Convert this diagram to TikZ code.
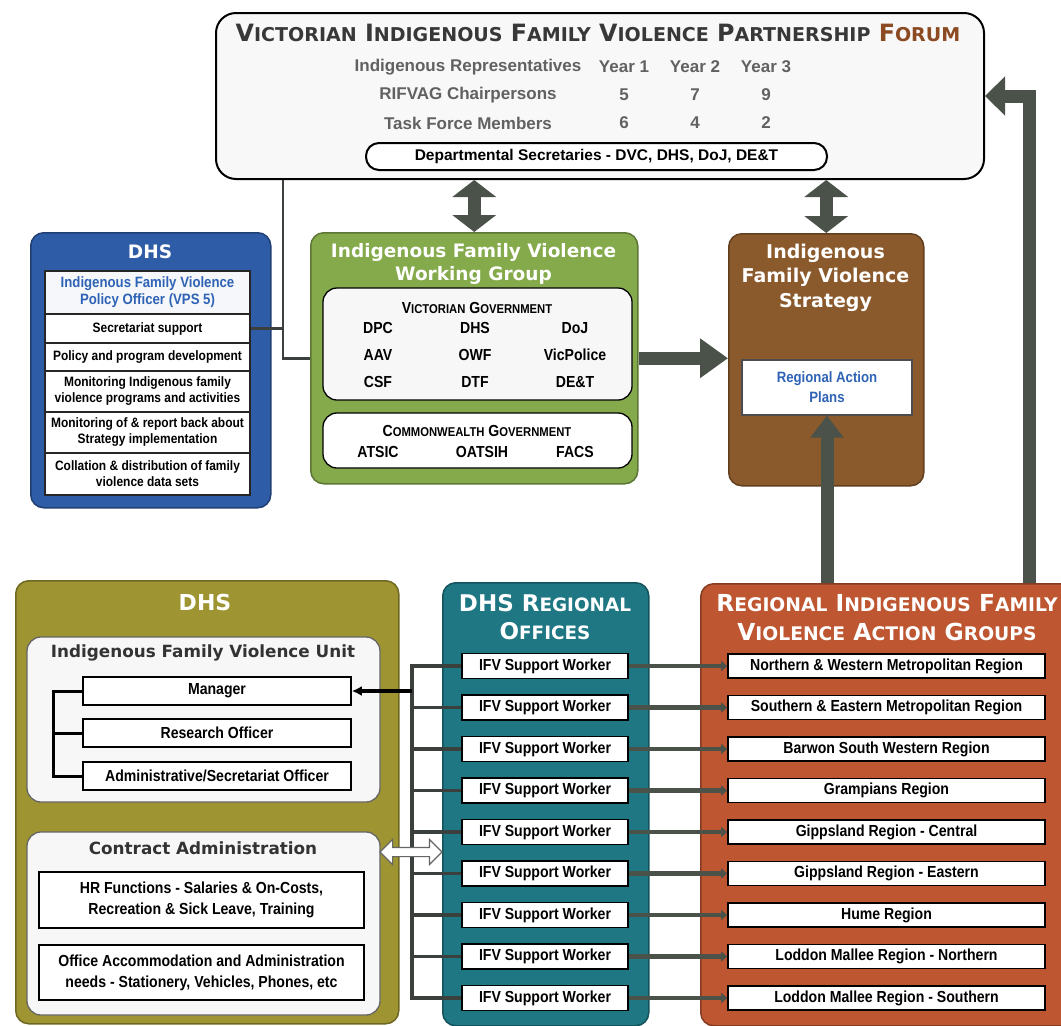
\documentclass[tikz,border=0pt]{standalone}
\usepackage{fontspec}
\setmainfont{Liberation Sans}
\newfontfamily\narrowsf[FakeStretch=0.88]{Liberation Sans}
\newfontfamily\headsf{DejaVu Sans}
\usetikzlibrary{arrows.meta,shapes.arrows}
\definecolor{forumfill}{HTML}{F8F8F8}
\definecolor{forumred}{HTML}{8B4A22}
\definecolor{blueb}{HTML}{2E5CA6}
\definecolor{bluetxt}{HTML}{2F63B5}
\definecolor{greenb}{HTML}{84AA4B}
\definecolor{brownb}{HTML}{8B5A2C}
\definecolor{oliveb}{HTML}{9E9431}
\definecolor{tealb}{HTML}{1E7783}
\definecolor{orangeb}{HTML}{BE5631}
\definecolor{arrowgrey}{HTML}{4B5249}
\definecolor{linegrey}{HTML}{3C403D}
\newcommand\smc[1]{\scalebox{0.8}{#1}}
\begin{document}
\begin{tikzpicture}[x=1pt,y=-1pt,
  panel/.style={draw=#1!70!black, fill=#1, line width=1.5pt, rounded corners=13pt, anchor=north west, inner sep=0pt},
  innerpanel/.style={draw=black!60, fill=white!97!black, line width=1.3pt, rounded corners=14pt, inner sep=0pt},
  cell/.style={draw=black, fill=white, line width=1.6pt, inner sep=0pt, align=center, font=\narrowsf\bfseries\fontsize{16}{20}\selectfont},
  dhsrow/.style={draw=black!85, fill=white, line width=1.2pt, inner sep=0pt, minimum width=205pt, align=center, font=\narrowsf\bfseries\fontsize{13.6}{16}\selectfont},
  whitehead/.style 2 args={text=white, align=center, font=\headsf\bfseries\fontsize{#1}{#2}\selectfont},
  darkhead/.style={text=black!80, align=center, font=\headsf\bfseries\fontsize{16.8}{20}\selectfont},
  member/.style={font=\narrowsf\bfseries\fontsize{16}{18}\selectfont},
  tabtxt/.style={text=black!62, font=\bfseries\fontsize{17}{20}\selectfont},
  link/.style={draw=linegrey, line width=2.5pt},
  buslink/.style={draw=linegrey, line width=3.5pt},
  fat/.style={draw=arrowgrey, line width=13pt},
  conn/.style={draw=arrowgrey, line width=4.5pt, -{Triangle[length=6pt,width=10pt]}}]
\clip (0,0) rectangle (1061,1026);
\fill[white] (0,0) rectangle (1061,1026);
\node[panel=forumfill, draw=black, line width=2pt, rounded corners=20pt, minimum width=768pt, minimum height=166pt] (forum) at (215,12) {};
\node[text=black!78, font=\headsf\bfseries\fontsize{23.8}{28}\selectfont] (forumtitle) at (598,33) {V\smc{ICTORIAN} I\smc{NDIGENOUS} F\smc{AMILY} V\smc{IOLENCE} P\smc{ARTNERSHIP} {\color{forumred}F\smc{ORUM}}};
\foreach \lab/\ya/\yb/\yc [count=\r] in {Indigenous Representatives/Year 1/Year 2/Year 3, RIFVAG Chairpersons/5/7/9, Task Force Members/6/4/2}{
  \node[tabtxt] (tl\r) at (468,39+28*\r) {\lab};
  \node[tabtxt] (ta\r) at (624,39+28*\r) {\ya};
  \node[tabtxt] (tb\r) at (695,39+28*\r) {\yb};
  \node[tabtxt] (tc\r) at (766,39+28*\r) {\yc};
}
\node[draw=black, fill=white, line width=2pt, rounded corners=13pt, minimum width=461pt, minimum height=27pt, inner sep=0pt, font=\bfseries\fontsize{15.5}{18}\selectfont] (secs) at (596.5,156.5) {Departmental Secretaries - DVC, DHS, DoJ, DE\&T};

\node[panel=blueb, minimum width=240pt, minimum height=275pt] (dhs) at (30,232) {};
\node[whitehead={18.5}{22}] (dhstitle) at (150,252) {DHS};
\node[dhsrow, fill=white!95!blueb, minimum height=43pt, text=bluetxt, font=\narrowsf\bfseries\fontsize{15}{17}\selectfont] (ifvpo) at (147.5,292.5) {Indigenous Family Violence\\Policy Officer (VPS 5)};
\node[dhsrow, minimum height=29pt] (secsup) at (147.5,328.5) {Secretariat support};
\node[dhsrow, minimum height=28pt] (polprog) at (147.5,357) {Policy and program development};
\node[dhsrow, minimum height=41pt] (monprog) at (147.5,391.5) {Monitoring Indigenous family\\violence programs and activities};
\node[dhsrow, minimum height=41pt] (monstrat) at (147.5,432.5) {Monitoring of \& report back about\\Strategy implementation};
\node[dhsrow, minimum height=42pt] (datasets) at (147.5,474) {Collation \& distribution of family\\violence data sets};

\node[panel=greenb, minimum width=327pt, minimum height=251pt] (wg) at (310,232) {};
\node[whitehead={18.5}{23}] (wgtitle) at (473.5,263.5) {Indigenous Family Violence\\Working Group};
\node[innerpanel, draw=black, minimum width=309pt, minimum height=112pt] (vicgov) at (477.5,344) {};
\node[member] (vicgovtitle) at (477,308) {V\smc{ICTORIAN} G\smc{OVERNMENT}};
\foreach \a/\b/\c [count=\r] in {DPC/DHS/DoJ, AAV/OWF/VicPolice, CSF/DTF/DE\&T}{
  \node[member] (va\r) at (378,301+27*\r) {\a};
  \node[member] (vb\r) at (475,301+27*\r) {\b};
  \node[member] (vc\r) at (575,301+27*\r) {\c};
}
\node[innerpanel, draw=black, fill=white, minimum width=309pt, minimum height=55pt] (cwgov) at (477.5,440.5) {};
\node[member] (cwgovtitle) at (477,431) {C\smc{OMMONWEALTH} G\smc{OVERNMENT}};
\node[member] (atsic) at (378,452) {ATSIC};
\node[member] (oatsih) at (482,452) {OATSIH};
\node[member] (facs) at (575,452) {FACS};

\node[panel=brownb, minimum width=195pt, minimum height=252pt] (strat) at (728,233) {};
\node[whitehead={19}{24.5}] (strattitle) at (825.5,277.5) {Indigenous\\Family Violence\\Strategy};
\node[draw=black!70, fill=white, line width=1.2pt, minimum width=170pt, minimum height=55pt, inner sep=0pt, align=center, text=bluetxt, font=\narrowsf\bfseries\fontsize{15}{20}\selectfont] (plans) at (827,387.5) {Regional Action\\Plans};

\node[panel=oliveb, minimum width=383pt, minimum height=443pt] (dhsunit) at (15,580) {};
\node[whitehead={22}{26}] (dhsunittitle) at (205,602) {DHS};
\node[innerpanel, minimum width=353pt, minimum height=165pt] (ifvu) at (203.5,719.5) {};
\node[darkhead] (ifvutitle) at (203,653) {Indigenous Family Violence Unit};
\node[cell, minimum width=268pt, minimum height=28pt] (manager) at (217,691) {Manager};
\node[cell, minimum width=268pt, minimum height=28pt] (research) at (217,733) {Research Officer};
\node[cell, minimum width=268pt, minimum height=28pt] (admin) at (217,776) {Administrative/Secretariat Officer};
\coordinate (brk) at (53,0);
\draw[draw=black, line width=3pt] (manager.west) -| (brk |- admin.west) -- (admin.west);
\draw[draw=black, line width=3pt] (research.west) -- (research.west -| brk);
\node[innerpanel, minimum width=353pt, minimum height=183pt] (contract) at (203.5,923.5) {};
\node[darkhead] (contracttitle) at (203,848) {Contract Administration};
\node[cell, minimum width=325pt, minimum height=56pt, font=\narrowsf\bfseries\fontsize{16}{21}\selectfont] (hr) at (201.5,900) {HR Functions - Salaries \& On-Costs,\\Recreation \& Sick Leave, Training};
\node[cell, minimum width=325pt, minimum height=55pt, font=\narrowsf\bfseries\fontsize{16}{21}\selectfont] (office) at (201.5,972.5) {Office Accommodation and Administration\\needs - Stationery, Vehicles, Phones, etc};

\node[panel=tealb, minimum width=206pt, minimum height=443pt] (ro) at (442,582) {};
\node[whitehead={23}{28}] (rotitle) at (545,617) {DHS R\smc{EGIONAL}\\O\smc{FFICES}};
\node[panel=orangeb, minimum width=375pt, minimum height=442pt] (rag) at (700,583) {};
\node[whitehead={23.4}{29}] (ragtitle) at (887,618) {R\smc{EGIONAL} I\smc{NDIGENOUS} F\smc{AMILY}\\V\smc{IOLENCE} A\smc{CTION} G\smc{ROUPS}};
\foreach \reg [count=\i] in {Northern \& Western Metropolitan Region, Southern \& Eastern Metropolitan Region, Barwon South Western Region, Grampians Region, Gippsland Region - Central, Gippsland Region - Eastern, Hume Region, Loddon Mallee Region - Northern, Loddon Mallee Region - Southern}{
  \node[cell, minimum width=166pt, minimum height=25pt] (w\i) at (545,624.5+41.5*\i) {IFV Support Worker};
  \node[cell, minimum width=317pt, minimum height=24pt] (r\i) at (886.5,624.5+41.5*\i) {\reg};
  \draw[conn] (w\i.east) -- (r\i.west);
}
\coordinate (bus) at (412,0);
\draw[buslink] (w1.west) -| (bus |- w9.west) -- (w9.west);
\foreach \i in {2,...,8} \draw[buslink] (bus |- w\i.west) -- (w\i.west);
\draw[buslink, draw=black, -{Latex[length=10pt,width=10pt]}] (bus |- manager.east) -- (manager.east);
\node[double arrow, draw=black!60, fill=white, line width=1.2pt, inner sep=4pt, double arrow head extend=8pt, minimum height=62pt] (twoway) at (411,852) {};

\draw[link] (forum.south -| 283,0) |- (wg.west);
\draw[link] (secsup.east) -- (secsup.east -| 283,0);
\draw[fat, {Triangle[length=17pt,width=43pt]}-{Triangle[length=17pt,width=43pt]}] (forum.south -| wg.north) -- (wg.north);
\draw[fat, {Triangle[length=17pt,width=43pt]}-{Triangle[length=17pt,width=43pt]}] (forum.south -| strat.north) -- (strat.north);
\draw[fat, -{Triangle[length=28pt,width=38pt]}] (wg.east) -- (wg.east -| strat.west);
\draw[fat, -{Triangle[length=22pt,width=32pt]}] (rag.north -| plans.south) -- (plans.south);
\coordinate (rcol) at (1029,0);
\draw[fat, -{Triangle[length=20pt,width=38pt]}] (rcol |- rag.north) |- (forum.east);
\end{tikzpicture}
\end{document}
